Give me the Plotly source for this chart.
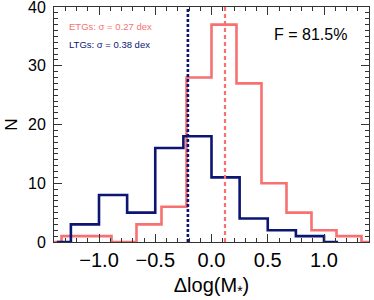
import plotly.graph_objects as go

# Histogram bin centres and counts (IDL psym=10 style steps)
etg_centers = [-13/9, -11/9, -9/9, -7/9, -5/9, -3/9, -1/9, 1/9, 3/9, 5/9, 7/9, 9/9, 11/9, 13/9]
etg_counts = [0, 1, 1, 0, 3, 6, 28, 37, 27, 10, 5, 2, 1, 0]

ltg_centers = [-1.375, -1.125, -0.875, -0.625, -0.375, -0.125, 0.125, 0.375, 0.625, 0.875, 1.125]
ltg_counts = [0, 3, 8, 5, 16, 18, 11, 4, 2, 1, 0]

etg_median = 0.12
ltg_median = -0.21

y_ticks = [0, 10, 20, 30, 40]
x_ticks = [-1.0, -0.5, 0.0, 0.5, 1.0]

etg_label = "ETGs: σ = 0.27 dex"
ltg_label = "LTGs: σ = 0.38 dex"
f_label = "F = 81.5%"

RED = "#F77171"
BLUE = "#0C1573"
FONT = "Liberation Sans, Arial, Helvetica, sans-serif"

fig = go.Figure()
fig.add_trace(go.Scatter(x=etg_centers, y=etg_counts, mode="lines",
                         line=dict(shape="hvh", color=RED, width=2.6),
                         showlegend=False, cliponaxis=True, hoverinfo="skip"))
fig.add_trace(go.Scatter(x=ltg_centers, y=ltg_counts, mode="lines",
                         line=dict(shape="hvh", color=BLUE, width=2.6),
                         showlegend=False, cliponaxis=True, hoverinfo="skip"))

fig.add_shape(type="line", xref="x", yref="paper", x0=ltg_median, x1=ltg_median,
              y0=0, y1=1, line=dict(color=BLUE, width=2.6, dash="3px,2px"))
fig.add_shape(type="line", xref="x", yref="paper", x0=etg_median, x1=etg_median,
              y0=0, y1=1, line=dict(color=RED, width=2.2, dash="4px,3px"))

fig.add_annotation(x=0.04, y=0.915, xref="paper", yref="paper", text=etg_label,
                   showarrow=False, xanchor="left", yanchor="middle",
                   font=dict(family=FONT, size=9.5, color=RED))
fig.add_annotation(x=0.04, y=0.84, xref="paper", yref="paper", text=ltg_label,
                   showarrow=False, xanchor="left", yanchor="middle",
                   font=dict(family=FONT, size=9.5, color=BLUE))
fig.add_annotation(x=0.935, y=0.885, xref="paper", yref="paper", text=f_label,
                   showarrow=False, xanchor="right", yanchor="middle",
                   font=dict(family=FONT, size=16, color="black"))

axis_common = dict(showgrid=False, zeroline=False, showline=True, linecolor="#333333",
                   linewidth=1, mirror="allticks", ticks="inside", tickcolor="#333333",
                   tickwidth=1, ticklen=8, automargin=False, ticklabeloverflow="allow")

fig.update_xaxes(range=[-1.4, 1.4], tickmode="array", tickvals=x_ticks,
                 ticktext=[("−" if v < 0 else "") + f"{abs(v):.1f}" for v in x_ticks],
                 tickfont=dict(family=FONT, size=20, color="black"),
                 minor=dict(ticks="inside", dtick=0.1, tick0=0, ticklen=4, tickcolor="#333333"),
                 title=dict(text="Δlog(M<sub>*</sub>)", standoff=7,
                            font=dict(family=FONT, size=20, color="black")),
                 ticklabelstandoff=0,
                 **axis_common)
fig.update_yaxes(range=[0, 40], tickmode="array", tickvals=y_ticks,
                 ticktext=[str(v) for v in y_ticks],
                 tickfont=dict(family=FONT, size=16, color="black"),
                 minor=dict(ticks="inside", dtick=1, tick0=0, ticklen=4, tickcolor="#333333"),
                 title=dict(text="N", standoff=6, font=dict(family=FONT, size=17, color="black")),
                 ticklabelstandoff=4,
                 **axis_common)

fig.update_layout(width=374, height=300, margin=dict(l=54, r=5, t=7, b=58, autoexpand=False),
                  plot_bgcolor="white", paper_bgcolor="white",
                  font=dict(family=FONT, color="black"))
fig.write_html("out.html", config={"displayModeBar": False},
               post_script="document.body.style.margin='0px';")
